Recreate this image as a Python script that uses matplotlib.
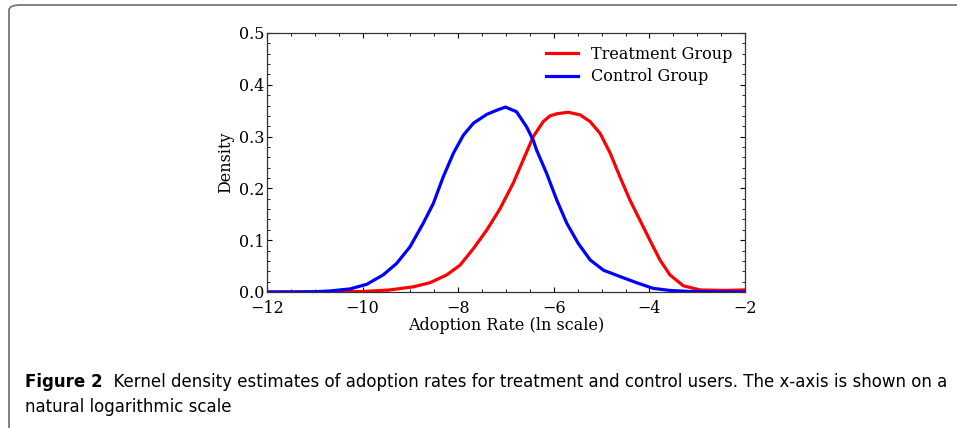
import numpy as np
import matplotlib
matplotlib.use("Agg")
import matplotlib.pyplot as plt
from matplotlib.patches import FancyBboxPatch
from matplotlib.ticker import AutoMinorLocator, MultipleLocator

# estimated from the reference chart (x on ln scale, y density)
treat_x = [-12, -11, -10.5, -9.99, -9.43, -8.94, -8.59, -8.24, -7.96, -7.68, -7.40,
           -7.13, -6.85, -6.64, -6.43, -6.22, -6.08, -5.94, -5.70, -5.45, -5.24, -5.03,
           -4.82, -4.62, -4.41, -4.20, -3.99, -3.78, -3.57, -3.29, -2.94, -2.45, -2.0]
treat_y = [0, 0, 0.0005, 0.001, 0.004, 0.010, 0.018, 0.033, 0.052, 0.084, 0.120,
           0.160, 0.210, 0.255, 0.300, 0.329, 0.340, 0.344, 0.347, 0.342, 0.329, 0.306,
           0.268, 0.223, 0.178, 0.139, 0.100, 0.062, 0.033, 0.012, 0.004, 0.003, 0.004]

ctrl_x = [-12, -11.5, -11, -10.68, -10.26, -9.91, -9.57, -9.29, -9.01, -8.73, -8.52,
          -8.31, -8.10, -7.89, -7.68, -7.40, -7.19, -7.01, -6.78, -6.57, -6.43, -6.36,
          -6.15, -5.94, -5.73, -5.49, -5.24, -4.96, -4.62, -4.27, -3.92, -3.57, -3.15,
          -2.5, -2]
ctrl_y = [0, 0, 0.0005, 0.002, 0.006, 0.015, 0.033, 0.055, 0.087, 0.133, 0.171,
          0.223, 0.268, 0.303, 0.326, 0.343, 0.351, 0.357, 0.348, 0.319, 0.293, 0.274,
          0.229, 0.178, 0.133, 0.094, 0.062, 0.042, 0.030, 0.018, 0.007, 0.003, 0.001,
          0, 0]

caption_bold = "Figure 2"
caption_rest = ("  Kernel density estimates of adoption rates for treatment and control users. "
                "The x-axis is shown on a")
caption_line2 = "natural logarithmic scale"

W, H = 957, 428
fig = plt.figure(figsize=(W / 100, H / 100), dpi=100)

# box around figure + caption
box = FancyBboxPatch((9 / W, -10 / H), 980 / W, 433 / H, boxstyle="round,pad=0,rounding_size=0.012",
                     transform=fig.transFigure, fill=False, edgecolor="#777777", linewidth=1.3)
fig.patches.append(box)

ax = fig.add_axes([267 / W, 1 - 292 / H, (745 - 267) / W, (292 - 33) / H])
serif = "DejaVu Serif"

ax.plot(treat_x, treat_y, color="#ff0000", lw=2.3, solid_joinstyle="round",
        label="Treatment Group")
ax.plot(ctrl_x, ctrl_y, color="#0000ff", lw=2.3, solid_joinstyle="round",
        label="Control Group")

ax.set_xlim(-12, -2)
ax.set_ylim(0, 0.5)
ax.xaxis.set_major_locator(MultipleLocator(2))
ax.yaxis.set_major_locator(MultipleLocator(0.1))
ax.xaxis.set_minor_locator(AutoMinorLocator(4))
ax.yaxis.set_minor_locator(AutoMinorLocator(5))
ax.tick_params(which="both", direction="in", top=True, right=True, labelsize=11.5)
ax.tick_params(axis="x", pad=5.5)
ax.tick_params(axis="y", pad=2)
ax.tick_params(which="major", length=3.5, width=0.8)
ax.tick_params(which="minor", length=2, width=0.6)
for lab in ax.get_xticklabels() + ax.get_yticklabels():
    lab.set_family(serif)
for s in ax.spines.values():
    s.set_linewidth(0.9)
    s.set_color("#333333")

ax.set_xlabel("Adoption Rate (ln scale)", family=serif, fontsize=11.5, labelpad=0)
ax.set_ylabel("Density", family=serif, fontsize=11.5, labelpad=3)
ax.legend(loc="upper right", frameon=False, prop={"family": serif, "size": 11.5},
          handlelength=2.0, borderaxespad=0.4, labelspacing=0.35)

cap_font = ["DejaVu Sans"]
t = fig.text(25 / W, 1 - 387 / H, caption_bold, family=cap_font, weight="bold",
             fontsize=12, va="baseline")
fig.canvas.draw()
bb = t.get_window_extent()
fig.text(bb.x1 / W, 1 - 387 / H, caption_rest, family=cap_font, fontsize=12, va="baseline")
fig.text(25 / W, 1 - 412 / H, caption_line2, family=cap_font, fontsize=12, va="baseline")

fig.savefig("out.png", dpi=100)
